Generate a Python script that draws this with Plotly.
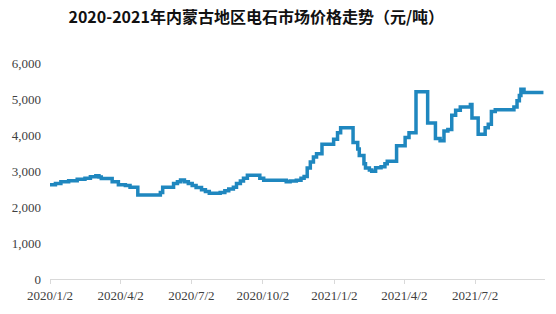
import plotly.graph_objects as go

# step data: date of price change -> new price (元/吨)
dates = [
    "2020-01-02", "2020-01-09", "2020-01-16", "2020-01-26", "2020-02-06", "2020-02-16",
    "2020-02-23", "2020-03-01", "2020-03-05", "2020-03-08", "2020-03-22", "2020-03-30",
    "2020-04-08", "2020-04-14", "2020-04-24", "2020-05-23", "2020-05-26", "2020-06-09",
    "2020-06-14", "2020-06-18", "2020-06-23", "2020-06-28", "2020-07-03", "2020-07-08",
    "2020-07-15", "2020-07-20", "2020-07-25", "2020-08-08", "2020-08-14", "2020-08-19",
    "2020-08-25", "2020-08-29", "2020-09-03", "2020-09-07", "2020-09-12", "2020-09-28",
    "2020-10-03", "2020-11-01", "2020-11-06", "2020-11-14", "2020-11-20", "2020-11-24",
    "2020-11-28", "2020-12-02", "2020-12-06", "2020-12-10", "2020-12-17", "2021-01-01",
    "2021-01-06", "2021-01-10", "2021-01-26", "2021-02-01", "2021-02-03", "2021-02-09",
    "2021-02-11", "2021-02-16", "2021-02-19", "2021-02-24", "2021-03-03", "2021-03-08",
    "2021-03-11", "2021-03-23", "2021-04-03", "2021-04-08", "2021-04-17", "2021-05-02",
    "2021-05-12", "2021-05-18", "2021-05-23", "2021-05-28", "2021-06-02", "2021-06-07",
    "2021-06-13", "2021-06-26", "2021-06-28", "2021-07-06", "2021-07-15", "2021-07-19",
    "2021-07-23", "2021-07-28", "2021-08-21", "2021-08-25", "2021-08-28", "2021-08-30",
    "2021-09-03", "2021-09-28",
]
prices = [
    2620, 2650, 2700, 2730, 2770, 2800,
    2840, 2870, 2830, 2790, 2700, 2620,
    2600, 2550, 2330, 2400, 2550, 2650,
    2700, 2750, 2700, 2650, 2600, 2540,
    2480, 2430, 2380, 2400, 2450, 2500,
    2550, 2650, 2720, 2800, 2880, 2800,
    2740, 2700, 2720, 2740, 2800, 2850,
    3080, 3250, 3390, 3480, 3740, 3880,
    4060, 4200, 3790, 3610, 3430, 3200,
    3080, 3030, 2990, 3090, 3120, 3200,
    3270, 3700, 3930, 4060, 5200, 4330,
    3900, 3840, 4110, 4150, 4550, 4690,
    4780, 4850, 4470, 4020, 4200, 4300,
    4650, 4700, 4780, 4950, 5100, 5270,
    5180, 5180,
]

tick_dates = ["2020-01-02", "2020-04-02", "2020-07-02", "2020-10-02",
              "2021-01-02", "2021-04-02", "2021-07-02"]
tick_labels = ["2020/1/2", "2020/4/2", "2020/7/2", "2020/10/2",
               "2021/1/2", "2021/4/2", "2021/7/2"]
y_ticks = [0, 1000, 2000, 3000, 4000, 5000, 6000]
y_labels = ["0", "1,000", "2,000", "3,000", "4,000", "5,000", "6,000"]

title = "2020-2021年内蒙古地区电石市场价格走势（元/吨）"

fig = go.Figure()
fig.add_trace(go.Scatter(
    x=dates, y=prices, mode="lines",
    line=dict(color="#1F87BF", width=3.5, shape="hv"),
    hoverinfo="x+y",
))

tick_font = dict(family="Liberation Serif, DejaVu Serif, serif", size=13, color="#404040")

fig.update_layout(
    width=556, height=314,
    margin=dict(l=50, r=11, t=63, b=28),
    paper_bgcolor="white", plot_bgcolor="white",
    showlegend=False,
    title=dict(
        text=title, x=0.461, xanchor="center", y=0.945, yanchor="middle",
        font=dict(family="Noto Sans CJK SC", size=16, color="#111111", weight="bold"),
    ),
    xaxis=dict(
        type="date",
        range=["2020-01-02", "2021-09-30"],
        tickvals=tick_dates, ticktext=tick_labels,
        showgrid=False, zeroline=False,
        showline=True, linecolor="#D9D9D9", linewidth=1,
        ticks="outside", ticklen=4, tickcolor="#D9D9D9",
        tickfont=tick_font,
    ),
    yaxis=dict(
        range=[0, 6000],
        tickvals=y_ticks, ticktext=y_labels,
        showgrid=False, zeroline=False, showline=False,
        ticks="", ticklabelstandoff=8,
        tickfont=tick_font,
    ),
)

fig.write_html("out.html")
